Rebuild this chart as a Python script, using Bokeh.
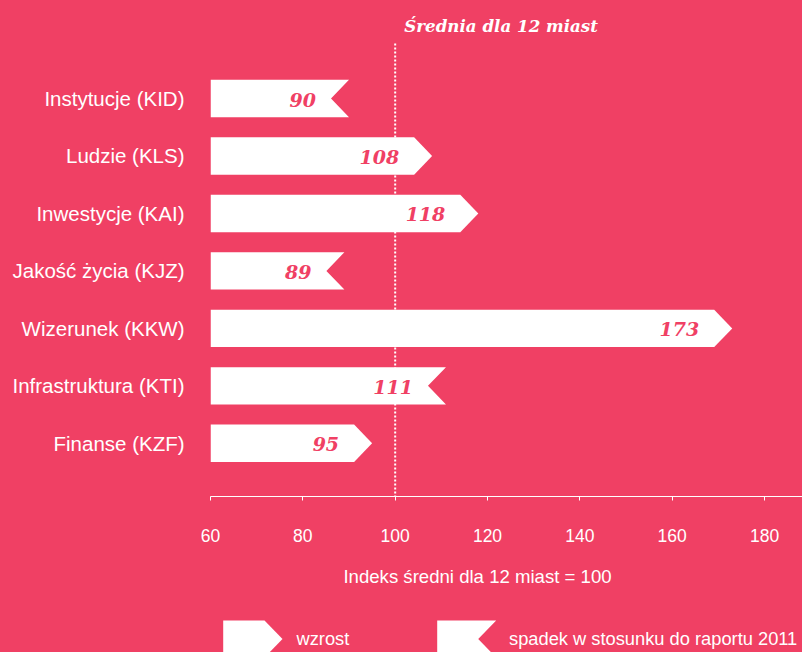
from bokeh.plotting import figure
from bokeh.models import Range1d, FixedTicker
from bokeh.layouts import column
from bokeh.embed import file_html
from bokeh.resources import INLINE
from bokeh.core.properties import value

# ---- data ----
categories = ["Instytucje (KID)", "Ludzie (KLS)", "Inwestycje (KAI)",
              "Jakość życia (KJZ)", "Wizerunek (KKW)", "Infrastruktura (KTI)",
              "Finanse (KZF)"]
values = [90, 108, 118, 89, 173, 111, 95]
trend = ["spadek", "wzrost", "wzrost", "spadek", "wzrost", "spadek", "wzrost"]
x_ticks = [60, 80, 100, 120, 140, 160, 180]
average = 100
title_text = "Średnia dla 12 miast"
x_label = "Indeks średni dla 12 miast = 100"
legend_labels = ["wzrost", "spadek w stosunku do raportu 2011"]

# ---- layout / style ----
BG = "#F04064"
WHITE = "#FFFFFF"
W = 802
H_MAIN = 556
H_LOW = 96
BORDER_LEFT = 210
FRAME_BOTTOM = 496
BORDER_BOTTOM = H_MAIN - FRAME_BOTTOM
PX_PER_UNIT = 4.617
ROW_PX = 57.47
FIRST_ROW_PX = 98
X_START = 60
X_END = X_START + (W - BORDER_LEFT) / PX_PER_UNIT
Y_TOP = -FIRST_ROW_PX / ROW_PX
Y_BOTTOM = (FRAME_BOTTOM - FIRST_ROW_PX) / ROW_PX
BAR_H = 37.4 / ROW_PX
TIP = 18 / PX_PER_UNIT

p = figure(width=W, height=H_MAIN,
           x_range=Range1d(X_START, X_END),
           y_range=Range1d(Y_BOTTOM, Y_TOP),
           output_backend="svg", toolbar_location=None,
           min_border_left=BORDER_LEFT, min_border_right=0,
           min_border_top=0, min_border_bottom=BORDER_BOTTOM,
           background_fill_color=BG, border_fill_color=BG,
           outline_line_color=None)
p.grid.visible = False

# dotted average line
p.segment(x0=[average], y0=[Y_TOP + 43 / ROW_PX], x1=[average], y1=[Y_BOTTOM],
          line_color=WHITE, line_width=2, line_dash="2 2")

# arrow bars
xs, ys = [], []
for i, (v, t) in enumerate(zip(values, trend)):
    top, bot = i - BAR_H / 2, i + BAR_H / 2
    if t == "wzrost":
        xs.append([X_START, v - TIP, v, v - TIP, X_START])
    else:
        xs.append([X_START, v, v - TIP, v, X_START])
    ys.append([top, top, i, bot, bot])
p.patches(xs=xs, ys=ys, fill_color=WHITE, line_color=None)

# value labels
p.text(x=values, y=list(range(len(values))), text=[str(v) for v in values],
       x_offset=-33, y_offset=1, text_align="right", text_baseline="middle",
       text_font=value("DejaVu Serif"), text_font_style="bold italic",
       text_font_size="19px", text_color=BG)

# title
p.text(x=[average], y=[Y_TOP + 25.5 / ROW_PX], text=[title_text], x_offset=9,
       text_align="left", text_baseline="middle",
       text_font=value("DejaVu Serif"), text_font_style="bold italic",
       text_font_size="16.7px", text_color=WHITE)

# x axis
xa = p.xaxis[0]
xa.ticker = FixedTicker(ticks=x_ticks)
xa.axis_line_color = WHITE
xa.axis_line_width = 1
xa.major_tick_line_color = WHITE
xa.major_tick_out = 4
xa.major_tick_in = 0
xa.minor_tick_line_color = None
xa.major_label_text_color = WHITE
xa.major_label_text_font = "Liberation Sans"
xa.major_label_text_font_size = "17.5px"
xa.major_label_standoff = 28

# y axis (categories)
ya = p.yaxis[0]
ya.ticker = FixedTicker(ticks=list(range(len(categories))))
ya.major_label_overrides = {i: c for i, c in enumerate(categories)}
ya.axis_line_color = None
ya.major_tick_line_color = None
ya.minor_tick_line_color = None
ya.major_tick_out = 0
ya.major_tick_in = 0
ya.major_label_standoff = 26
ya.major_label_text_color = WHITE
ya.major_label_text_font = "Liberation Sans"
ya.major_label_text_font_size = "20.5px"

# ---- lower strip: axis caption + legend ----
q = figure(width=W, height=H_LOW, x_range=Range1d(BORDER_LEFT, W),
           y_range=Range1d(H_LOW, 0),
           output_backend="svg", toolbar_location=None,
           x_axis_type=None, y_axis_type=None,
           min_border_left=BORDER_LEFT, min_border_right=0,
           min_border_top=0, min_border_bottom=0,
           background_fill_color=BG, border_fill_color=BG, outline_line_color=None)
q.grid.visible = False
q.text(x=[477], y=[20.3], text=[x_label], text_align="center", text_baseline="middle",
       text_font=value("Liberation Sans"), text_font_size="18.6px", text_color=WHITE)
lt, lb, lc = 64, 101, 82.5
q.patches(xs=[[222.7, 264, 282, 264, 222.7], [436.7, 495.7, 477.7, 495.7, 436.7]],
          ys=[[lt, lt, lc, lb, lb], [lt, lt, lc, lb, lb]],
          fill_color=WHITE, line_color=None)
q.text(x=[296, 508.5], y=[82, 82], text=legend_labels,
       text_align="left", text_baseline="middle",
       text_font=value("Liberation Sans"), text_font_size="18.3px", text_color=WHITE)

layout = column(p, q, spacing=0)
html = file_html(layout, INLINE, title="Indeks")
html = html.replace(
    "</head>",
    "<style>html,body{margin:0;padding:0;overflow:hidden;background:%s;}</style></head>" % BG,
    1)
open("out.html", "w").write(html)
